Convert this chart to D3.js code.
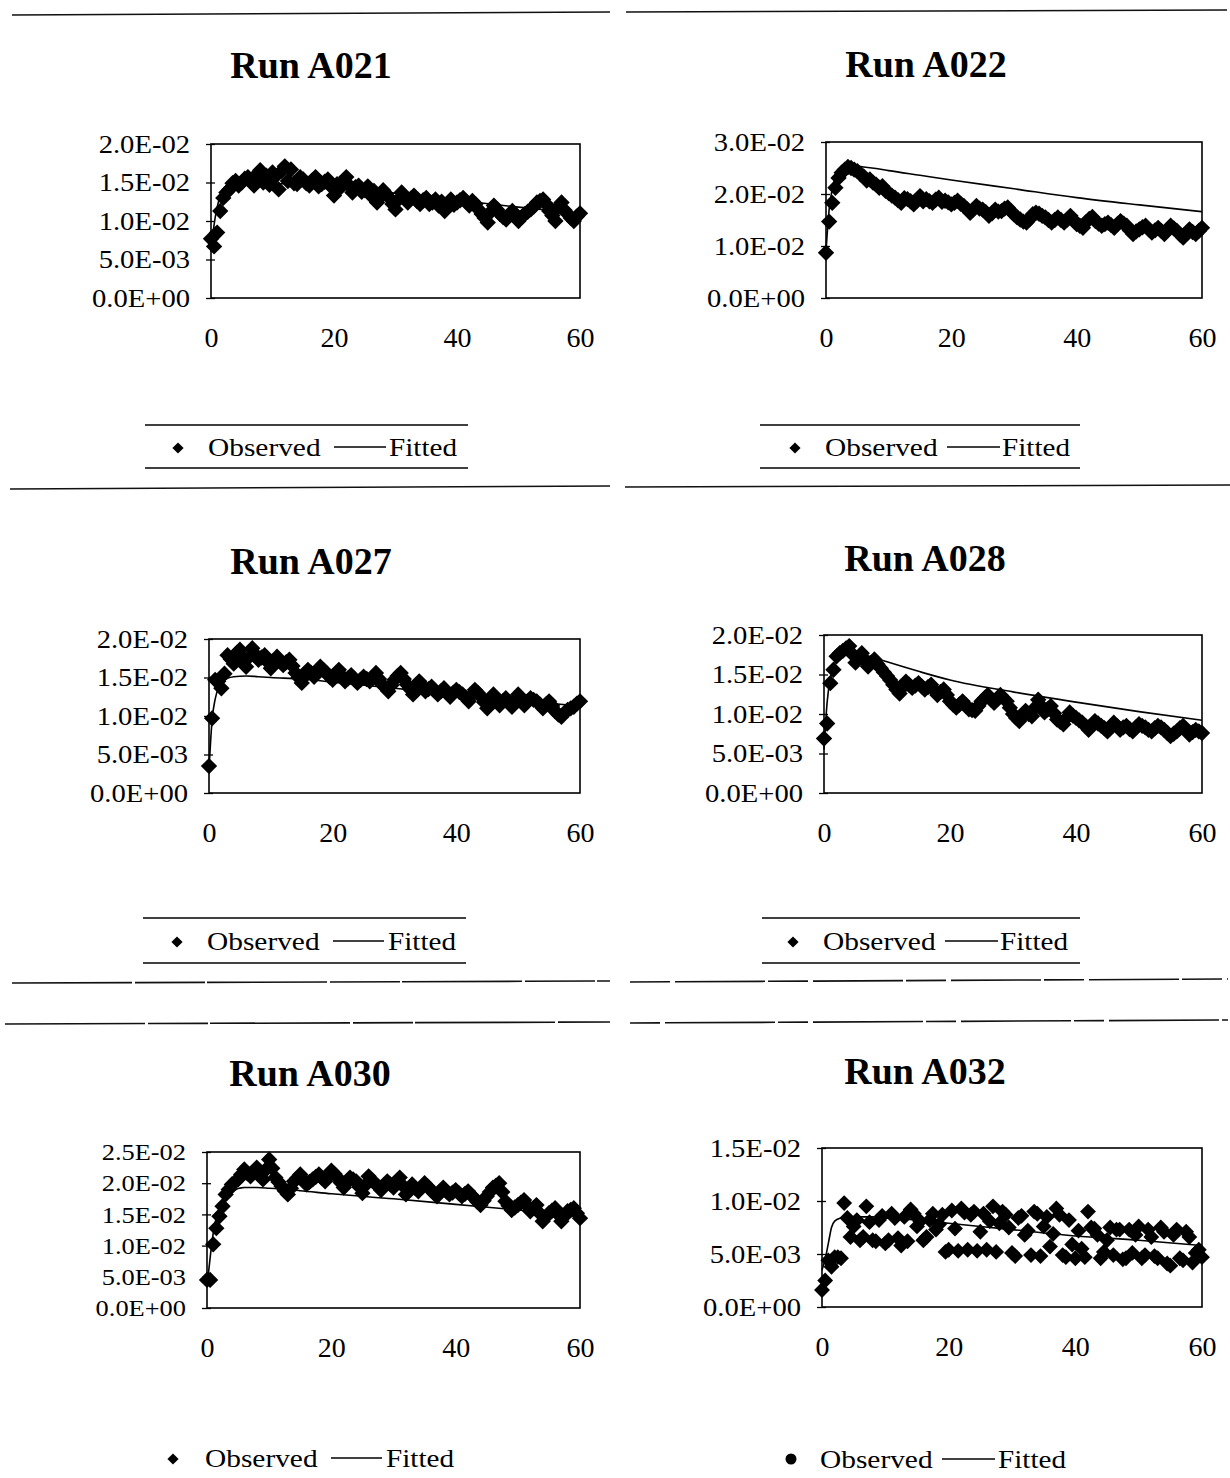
<!DOCTYPE html>
<html>
<head>
<meta charset="utf-8">
<script src="https://cdn.jsdelivr.net/npm/d3@7"></script>
<style>
  html, body { margin: 0; padding: 0; background: #fff; }
  svg { display: block; }
  text { font-family: "Liberation Serif", "DejaVu Serif", serif; fill: #000; }
</style>
</head>
<body>
<svg id="chart" width="1230" height="1478"></svg>
<script>
// Whole-minute sampling times (minutes) of the observed concentrations
const obsTimes = [0, 0.5, 1, 1.5, 2, 3, 4, 5, 6, 7, 8, 9, 10, 11, 12, 13, 14, 15, 16, 17, 18, 19, 20,
  21, 22, 23, 24, 25, 26, 27, 28, 29, 30, 31, 32, 33, 34, 35, 36, 37, 38, 39, 40,
  41, 42, 43, 44, 45, 46, 47, 48, 49, 50, 51, 52, 53, 54, 55, 56, 57, 58, 59, 60];

// Intermediate half-minute samples
const halfTimes = [2.5, 3.5, 4.5, 5.5, 6.5, 7.5, 8.5, 9.5, 10.5, 11.5, 12.5, 13.5, 14.5, 15.5, 16.5, 17.5,
  18.5, 19.5, 20.5, 21.5, 22.5, 23.5, 24.5, 25.5, 26.5, 27.5, 28.5, 29.5, 30.5, 31.5, 32.5, 33.5, 34.5,
  35.5, 36.5, 37.5, 38.5, 39.5, 40.5, 41.5, 42.5, 43.5, 44.5, 45.5, 46.5, 47.5, 48.5, 49.5, 50.5, 51.5,
  52.5, 53.5, 54.5, 55.5, 56.5, 57.5, 58.5, 59.5];

// Run A032 listed on one half-minute grid
const obsTimesA032 = [0, 0.5, 1, 1.5, 2, 2.5, 3, 3.5, 4, 4.5, 5, 5.5, 6, 6.5, 7, 7.5, 8, 8.5, 9, 9.5,
  10, 10.5, 11, 11.5, 12, 12.5, 13, 13.5, 14, 14.5, 15, 15.5, 16, 16.5, 17, 17.5, 18, 18.5, 19, 19.5,
  20, 20.5, 21, 21.5, 22, 22.5, 23, 23.5, 24, 24.5, 25, 25.5, 26, 26.5, 27, 27.5, 28, 28.5, 29, 29.5,
  30, 30.5, 31, 31.5, 32, 32.5, 33, 33.5, 34, 34.5, 35, 35.5, 36, 36.5, 37, 37.5, 38, 38.5, 39, 39.5,
  40, 40.5, 41, 41.5, 42, 42.5, 43, 43.5, 44, 44.5, 45, 45.5, 46, 46.5, 47, 47.5, 48, 48.5, 49, 49.5,
  50, 50.5, 51, 51.5, 52, 52.5, 53, 53.5, 54, 54.5, 55, 55.5, 56, 56.5, 57, 57.5, 58, 58.5, 59, 59.5, 60];

// Times at which the fitted model curve is tabulated
const fitTimes = [0, 0.5, 1, 1.5, 2, 3, 4, 6, 8, 10, 15, 20, 30, 40, 50, 60];

const runNames = ["Run A021", "Run A022", "Run A027", "Run A028", "Run A030", "Run A032"];

const obsA021 = [0.0077, 0.0067, 0.0085, 0.0113, 0.013, 0.0141, 0.0152, 0.015, 0.0157, 0.0146, 0.0166, 0.0159, 0.0163,
  0.0141, 0.0171, 0.0167, 0.0148, 0.0154, 0.0146, 0.0157, 0.0148, 0.0154, 0.0133, 0.0143, 0.0157, 0.0137, 0.0146,
  0.014, 0.0133, 0.0124, 0.014, 0.013, 0.0115, 0.0137, 0.0124, 0.0133, 0.0122, 0.013, 0.0124, 0.012, 0.0113, 0.0128,
  0.0124, 0.013, 0.012, 0.0122, 0.0109, 0.0098, 0.012, 0.0109, 0.0102, 0.0113, 0.01, 0.0109, 0.0115, 0.0124, 0.0128,
  0.0113, 0.01, 0.0124, 0.0109, 0.01, 0.011];
const halfA021 = [0.0137, 0.0149, 0.0146, 0.0155, 0.0151, 0.0161, 0.015, 0.0147, 0.0158, 0.0165, 0.0152, 0.0149,
  0.0157, 0.0149, 0.0153, 0.0145, 0.0151, 0.0145, 0.0148, 0.0152, 0.0146, 0.0144, 0.0138, 0.0145, 0.0139, 0.0131,
  0.0135, 0.0122, 0.0128, 0.0131, 0.0129, 0.0126, 0.0127, 0.0122, 0.0128, 0.0125, 0.012, 0.0121, 0.0127, 0.0125,
  0.0126, 0.0115, 0.0104, 0.0112, 0.0115, 0.0105, 0.0108, 0.0106, 0.0105, 0.0112, 0.0119, 0.0126, 0.0122, 0.0107,
  0.0118, 0.0114, 0.0104, 0.0106];
const fitA021 = [0.006, 0.0095, 0.0118, 0.0132, 0.014, 0.0147, 0.015, 0.0151, 0.015, 0.0149, 0.0147, 0.0144, 0.0136, 0.0127, 0.0118, 0.011];

const obsA022 = [0.0087, 0.0147, 0.0183, 0.0212, 0.0231, 0.0247, 0.025, 0.0244, 0.0234, 0.0228, 0.0218, 0.0215, 0.0202,
  0.0193, 0.0183, 0.019, 0.018, 0.0196, 0.019, 0.0183, 0.0193, 0.0187, 0.018, 0.0187, 0.0177, 0.0164, 0.0177, 0.017,
  0.0158, 0.017, 0.0167, 0.0174, 0.0161, 0.0151, 0.0145, 0.0161, 0.0162, 0.0155, 0.0145, 0.0155, 0.0145, 0.0158,
  0.0142, 0.0135, 0.0152, 0.0148, 0.0139, 0.0145, 0.0135, 0.0148, 0.0139, 0.0123, 0.0132, 0.0139, 0.0126, 0.0135,
  0.0123, 0.0139, 0.0129, 0.0116, 0.0132, 0.0123, 0.0135];
const halfA022 = [0.0241, 0.0252, 0.0247, 0.0238, 0.0226, 0.0222, 0.0212, 0.0206, 0.0197, 0.0188, 0.0192, 0.0186,
  0.0188, 0.0186, 0.0186, 0.0189, 0.0185, 0.0184, 0.0183, 0.0181, 0.0171, 0.017, 0.0172, 0.0165, 0.0163, 0.0166,
  0.0172, 0.0167, 0.0155, 0.0147, 0.0152, 0.0164, 0.0158, 0.015, 0.015, 0.015, 0.0151, 0.015, 0.0139, 0.0146,
  0.0156, 0.0143, 0.0142, 0.014, 0.0142, 0.0143, 0.013, 0.0128, 0.0136, 0.0132, 0.013, 0.0129, 0.0131, 0.0134,
  0.0122, 0.0124, 0.0127, 0.0129];
const fitA022 = [0.009, 0.017, 0.021, 0.0232, 0.0243, 0.0252, 0.0254, 0.0252, 0.0249, 0.0245, 0.0236, 0.0227, 0.021, 0.0193, 0.0179, 0.0166];

const obsA027 = [0.0035, 0.0097, 0.0147, 0.0145, 0.0136, 0.0179, 0.0168, 0.0186, 0.0164, 0.0188, 0.0173, 0.0179, 0.0162,
  0.0177, 0.0166, 0.0173, 0.0156, 0.0143, 0.016, 0.0151, 0.0164, 0.0156, 0.0147, 0.016, 0.0145, 0.0153, 0.0143, 0.0151,
  0.0145, 0.0156, 0.0141, 0.0132, 0.0147, 0.0156, 0.0141, 0.0128, 0.0145, 0.0132, 0.0138, 0.0128, 0.0136, 0.0125,
  0.0134, 0.0128, 0.0119, 0.0134, 0.0125, 0.011, 0.0128, 0.0114, 0.0123, 0.0112, 0.0128, 0.0114, 0.0123, 0.0119,
  0.011, 0.0119, 0.0106, 0.0099, 0.0108, 0.0112, 0.0119];
const halfA027 = [0.0155, 0.0174, 0.0182, 0.0175, 0.0177, 0.018, 0.0176, 0.017, 0.017, 0.0171, 0.017, 0.0165,
  0.015, 0.0152, 0.0156, 0.0158, 0.016, 0.0151, 0.0153, 0.0152, 0.0149, 0.0148, 0.0147, 0.0148, 0.015, 0.0148,
  0.0137, 0.014, 0.0152, 0.0148, 0.0135, 0.0137, 0.0139, 0.0135, 0.0133, 0.0132, 0.013, 0.013, 0.0131, 0.0124,
  0.0127, 0.013, 0.0118, 0.0119, 0.0121, 0.0119, 0.0118, 0.012, 0.0121, 0.0119, 0.0121, 0.0115, 0.0115, 0.0113,
  0.0102, 0.0104, 0.011, 0.0116];
const fitA027 = [0.003, 0.0095, 0.0122, 0.0136, 0.0143, 0.0149, 0.0151, 0.0152, 0.0151, 0.015, 0.0148, 0.0144, 0.0136, 0.0128, 0.012, 0.0113];

const obsA028 = [0.0069, 0.0088, 0.0139, 0.0156, 0.0173, 0.018, 0.0186, 0.0165, 0.0177, 0.016, 0.0169, 0.0158, 0.0148,
  0.0137, 0.0126, 0.0141, 0.0133, 0.0139, 0.0131, 0.0137, 0.0124, 0.0131, 0.0116, 0.0108, 0.0116, 0.0106, 0.0104,
  0.0116, 0.0124, 0.0114, 0.0124, 0.0116, 0.01, 0.0091, 0.0104, 0.0097, 0.0118, 0.0102, 0.011, 0.0093, 0.0087, 0.0102,
  0.0095, 0.0089, 0.008, 0.0091, 0.0085, 0.0078, 0.0089, 0.008, 0.0085, 0.0078, 0.0087, 0.0083, 0.0078, 0.0085,
  0.008, 0.0072, 0.0078, 0.0085, 0.0074, 0.008, 0.0076];
const halfA028 = [0.0177, 0.0183, 0.0176, 0.0171, 0.0168, 0.0165, 0.0163, 0.0153, 0.0143, 0.0131, 0.0134, 0.0137,
  0.0136, 0.0135, 0.0134, 0.013, 0.0128, 0.0124, 0.0112, 0.0112, 0.0111, 0.0105, 0.011, 0.012, 0.0119, 0.0119,
  0.012, 0.0108, 0.0095, 0.0098, 0.01, 0.0108, 0.011, 0.0106, 0.0101, 0.009, 0.0095, 0.0098, 0.0092, 0.0085,
  0.0086, 0.0088, 0.0082, 0.0084, 0.0085, 0.0083, 0.0081, 0.0083, 0.0085, 0.008, 0.0082, 0.0083, 0.0076, 0.0075,
  0.0082, 0.008, 0.0077, 0.0078];
const fitA028 = [0.0055, 0.0115, 0.0145, 0.016, 0.0168, 0.0176, 0.0178, 0.0176, 0.0171, 0.0166, 0.0154, 0.0143, 0.0128, 0.0115, 0.0103, 0.0092];

const obsA030 = [0.0045, 0.0045, 0.0102, 0.0128, 0.0147, 0.0182, 0.0198, 0.0206, 0.0222, 0.0211, 0.0225, 0.0206, 0.0238,
  0.0209, 0.0195, 0.0182, 0.0203, 0.0214, 0.0198, 0.0206, 0.0214, 0.0203, 0.022, 0.0209, 0.0193, 0.0209, 0.0203,
  0.0184, 0.0211, 0.02, 0.0189, 0.0203, 0.0193, 0.0209, 0.0182, 0.0198, 0.0187, 0.02, 0.0189, 0.0179, 0.0193, 0.0182,
  0.0189, 0.0179, 0.0187, 0.0176, 0.0165, 0.0179, 0.0193, 0.02, 0.0171, 0.0157, 0.0165, 0.0173, 0.0155, 0.0165,
  0.0139, 0.0152, 0.016, 0.0139, 0.0155, 0.016, 0.0144];
const halfA030 = [0.0163, 0.019, 0.0202, 0.0214, 0.0216, 0.0218, 0.0215, 0.0222, 0.0224, 0.0202, 0.0188, 0.0192,
  0.0208, 0.0206, 0.0202, 0.021, 0.0208, 0.0211, 0.0215, 0.0201, 0.0201, 0.0206, 0.0194, 0.0197, 0.0205, 0.0195,
  0.0196, 0.0198, 0.0201, 0.0196, 0.019, 0.0192, 0.0193, 0.0195, 0.0184, 0.0186, 0.0187, 0.0185, 0.0184, 0.0183,
  0.0181, 0.017, 0.0172, 0.0186, 0.0196, 0.0186, 0.0164, 0.0161, 0.0169, 0.0164, 0.016, 0.0152, 0.0146, 0.0156,
  0.015, 0.0147, 0.0157, 0.0152];
const fitA030 = [0.0035, 0.008, 0.012, 0.0145, 0.016, 0.0178, 0.0187, 0.0193, 0.0193, 0.0192, 0.0188, 0.0183, 0.0175, 0.0166, 0.0157, 0.0147];

const obsA032 = [0.0016, 0.0025, 0.0044, 0.0038, 0.0047, 0.0047, 0.0046, 0.0098, 0.0084, 0.0066, 0.0076, 0.0082,
  0.0063, 0.0066, 0.0095, 0.008, 0.0063, 0.0062, 0.0082, 0.0086, 0.006, 0.0063, 0.0088, 0.0084, 0.0065, 0.0058,
  0.0085, 0.0062, 0.0092, 0.0088, 0.0076, 0.0081, 0.0063, 0.0066, 0.0082, 0.0088, 0.0073, 0.0078, 0.0087, 0.0052,
  0.0054, 0.0091, 0.0074, 0.0053, 0.0093, 0.0089, 0.0054, 0.0087, 0.009, 0.0053, 0.0071, 0.0088, 0.0054, 0.0081,
  0.0095, 0.0052, 0.0079, 0.009, 0.0087, 0.0075, 0.0051, 0.0048, 0.0084, 0.0086, 0.0068, 0.0072, 0.0049, 0.009,
  0.0088, 0.0048, 0.0076, 0.0085, 0.0057, 0.0069, 0.0093, 0.0087, 0.0049, 0.0047, 0.0082, 0.0059, 0.0046, 0.0072,
  0.0055, 0.0047, 0.009, 0.0075, 0.0074, 0.0068, 0.0046, 0.0052, 0.0063, 0.0075, 0.0049, 0.0073, 0.0073, 0.0045,
  0.0046, 0.0073, 0.0051, 0.0068, 0.0076, 0.0046, 0.0049, 0.0073, 0.0066, 0.0048, 0.0046, 0.0075, 0.0071, 0.0041,
  0.0039, 0.0068, 0.0073, 0.0046, 0.0044, 0.0071, 0.0066, 0.0042, 0.0051, 0.0054, 0.0047];
const halfA032 = [];
const fitA032 = [0.0035, 0.0045, 0.006, 0.0075, 0.0081, 0.0084, 0.0085, 0.0085, 0.0085, 0.0084, 0.0082, 0.0079, 0.0073, 0.0067, 0.0063, 0.0058];

const yMaxima = [0.02, 0.03, 0.02, 0.02, 0.025, 0.015];
const yTickSteps = [0.005, 0.01, 0.005, 0.005, 0.005, 0.005];
const xTicks = [0, 20, 40, 60];
const legendLabels = ["Observed", "Fitted"];

// Page layout of each panel (plot frame, title, legend)
const layout = [
  { box: [211, 580, 144, 298], titleX: 311, titleY: 78, yFont: 26,
    leg: { x1: 145, x2: 468, yTop: 425, yBot: 468, cy: 447, mark: 178, obsX: 208, l1: 334, l2: 386, fitX: 389, rules: true, dot: false } },
  { box: [826, 1202, 142, 298], titleX: 926, titleY: 77, yFont: 26,
    leg: { x1: 760, x2: 1080, yTop: 425, yBot: 468, cy: 447, mark: 795, obsX: 825, l1: 947, l2: 1000, fitX: 1002, rules: true, dot: false } },
  { box: [209, 580, 639, 793], titleX: 311, titleY: 574, yFont: 26,
    leg: { x1: 143, x2: 466, yTop: 918, yBot: 963, cy: 941, mark: 177, obsX: 207, l1: 333, l2: 384, fitX: 388, rules: true, dot: false } },
  { box: [824, 1202, 635, 793], titleX: 925, titleY: 571, yFont: 26,
    leg: { x1: 762, x2: 1080, yTop: 918, yBot: 963, cy: 941, mark: 793, obsX: 823, l1: 945, l2: 998, fitX: 1000, rules: true, dot: false } },
  { box: [207, 580, 1152, 1308], titleX: 310, titleY: 1086, yFont: 24,
    leg: { cy: 1458, mark: 173, obsX: 205, l1: 331, l2: 382, fitX: 386, rules: false, dot: false } },
  { box: [822, 1202, 1148, 1307], titleX: 925, titleY: 1084, yFont: 26,
    leg: { cy: 1459, mark: 791, obsX: 820, l1: 942, l2: 995, fitX: 998, rules: false, dot: true } }
];

const observedTimes = [obsTimes, obsTimes, obsTimes, obsTimes, obsTimes, obsTimesA032];
const observed = [obsA021, obsA022, obsA027, obsA028, obsA030, obsA032];
const observedHalf = [halfA021, halfA022, halfA027, halfA028, halfA030, halfA032];
const fitted = [fitA021, fitA022, fitA027, fitA028, fitA030, fitA032];
const markerSizes = [170, 170, 170, 170, 170, 160];

// Square rotated by 45 degrees, the usual spreadsheet marker
const squareDiamond = {
  draw(ctx, size) {
    const r = Math.sqrt(size) * 0.62625;
    ctx.moveTo(0, -r); ctx.lineTo(r, 0); ctx.lineTo(0, r); ctx.lineTo(-r, 0); ctx.closePath();
  }
};

// "2.0E-02" style tick labels
function sciLabel(v) {
  if (v === 0) return "0.0E+00";
  const s = v.toExponential(1);
  const [m, e] = s.split("e");
  const n = parseInt(e, 10);
  const sign = n < 0 ? "-" : "+";
  return m + "E" + sign + String(Math.abs(n)).padStart(2, "0");
}

// Widen a text run slightly (the printed face is broader than Times)
function widen(sel, f) {
  sel.each(function () {
    const w = this.getComputedTextLength();
    d3.select(this).attr("textLength", w * f).attr("lengthAdjust", "spacingAndGlyphs");
  });
}

const svg = d3.select("#chart");

// Page separator rules
const rules = [
  { x1: 12, x2: 610, y1: 15, y2: 12, dash: null },
  { x1: 626, x2: 1227, y1: 12, y2: 10, dash: null },
  { x1: 10, x2: 610, y1: 489, y2: 486, dash: null },
  { x1: 625, x2: 1230, y1: 487, y2: 485, dash: null },
  { x1: 12, x2: 610, y1: 983, y2: 981, dash: "120,3,70,2" },
  { x1: 630, x2: 1228, y1: 982, y2: 979, dash: "40,5,90,3" },
  { x1: 5, x2: 610, y1: 1024, y2: 1022, dash: "140,3,60,2" },
  { x1: 630, x2: 1228, y1: 1023, y2: 1020, dash: "30,5,110,3" }
];
svg.append("g").selectAll("line").data(rules).join("line")
  .attr("x1", d => d.x1).attr("x2", d => d.x2)
  .attr("y1", d => d.y1).attr("y2", d => d.y2)
  .attr("stroke", "#111").attr("stroke-width", 1.6)
  .attr("stroke-dasharray", d => d.dash);

runNames.forEach((name, i) => {
  const L = layout[i];
  const [x0, x1, yT, yB] = L.box;
  const g = svg.append("g");

  const x = d3.scaleLinear().domain([0, 60]).range([x0, x1]);
  const y = d3.scaleLinear().domain([0, yMaxima[i]]).range([yB, yT]);
  const yTicks = d3.range(0, yMaxima[i] + yTickSteps[i] / 2, yTickSteps[i]).map(v => +v.toFixed(4));

  // Title
  g.append("text")
    .attr("x", L.titleX).attr("y", L.titleY)
    .attr("text-anchor", "middle")
    .style("font-size", "38px").style("font-weight", "bold")
    .text(name);

  // Plot frame
  g.append("rect")
    .attr("x", x0).attr("y", yT)
    .attr("width", x1 - x0).attr("height", yB - yT)
    .attr("fill", "none").attr("stroke", "#000").attr("stroke-width", 1.6);

  // Y axis
  const ya = g.append("g")
    .attr("transform", `translate(${x0},0)`)
    .call(d3.axisLeft(y).tickValues(yTicks).tickSize(5).tickPadding(16).tickFormat(sciLabel));
  ya.select(".domain").remove();
  ya.selectAll(".tick line").attr("x1", 4).attr("stroke-width", 1.3);
  ya.selectAll(".tick text").style("font-size", L.yFont + "px")
    .style("font-family", "'Liberation Serif', serif")
    .call(widen, 1.1);

  // X axis
  const xa = g.append("g")
    .attr("transform", `translate(0,${yB})`)
    .call(d3.axisBottom(x).tickValues(xTicks).tickSize(0).tickPadding(29));
  xa.select(".domain").remove();
  xa.selectAll(".tick text").style("font-size", "28px")
    .style("font-family", "'Liberation Serif', serif");

  // Fitted curve
  const line = d3.line().x(d => x(d[0])).y(d => y(d[1])).curve(d3.curveMonotoneX);
  g.append("path")
    .datum(fitTimes.map((t, k) => [t, fitted[i][k]]))
    .attr("d", line)
    .attr("fill", "none").attr("stroke", "#000").attr("stroke-width", 1.6);

  // Observed markers (whole-minute and half-minute samples)
  const pts = observedTimes[i].map((t, k) => [t, observed[i][k]])
    .concat(halfTimes.map((t, k) => [t, observedHalf[i][k]]))
    .filter(d => d[1] !== undefined);
  const sym = d3.symbol().type(squareDiamond).size(markerSizes[i]);
  g.append("g").selectAll("path").data(pts).join("path")
    .attr("transform", d => `translate(${x(d[0])},${y(d[1])})`)
    .attr("d", sym)
    .attr("fill", "#000");

  // Legend
  const lg = L.leg;
  const leg = g.append("g");
  if (lg.rules) {
    leg.append("line").attr("x1", lg.x1).attr("x2", lg.x2).attr("y1", lg.yTop).attr("y2", lg.yTop)
      .attr("stroke", "#000").attr("stroke-width", 1.3);
    leg.append("line").attr("x1", lg.x1).attr("x2", lg.x2).attr("y1", lg.yBot).attr("y2", lg.yBot)
      .attr("stroke", "#000").attr("stroke-width", 1.3);
  }
  if (lg.dot) {
    leg.append("path").attr("transform", `translate(${lg.mark},${lg.cy})`)
      .attr("d", d3.symbol().type(d3.symbolCircle).size(95)).attr("fill", "#000");
  } else {
    leg.append("path").attr("transform", `translate(${lg.mark},${lg.cy + 1})`)
      .attr("d", d3.symbol().type(squareDiamond).size(80)).attr("fill", "#000");
  }
  leg.append("text").attr("x", lg.obsX).attr("y", lg.cy + 9)
    .style("font-size", "26px").text(legendLabels[0]).call(widen, 1.13);
  leg.append("line").attr("x1", lg.l1).attr("x2", lg.l2).attr("y1", lg.cy).attr("y2", lg.cy)
    .attr("stroke", "#000").attr("stroke-width", 1.6);
  leg.append("text").attr("x", lg.fitX).attr("y", lg.cy + 9)
    .style("font-size", "26px").text(legendLabels[1]).call(widen, 1.12);
});
</script>
</body>
</html>
